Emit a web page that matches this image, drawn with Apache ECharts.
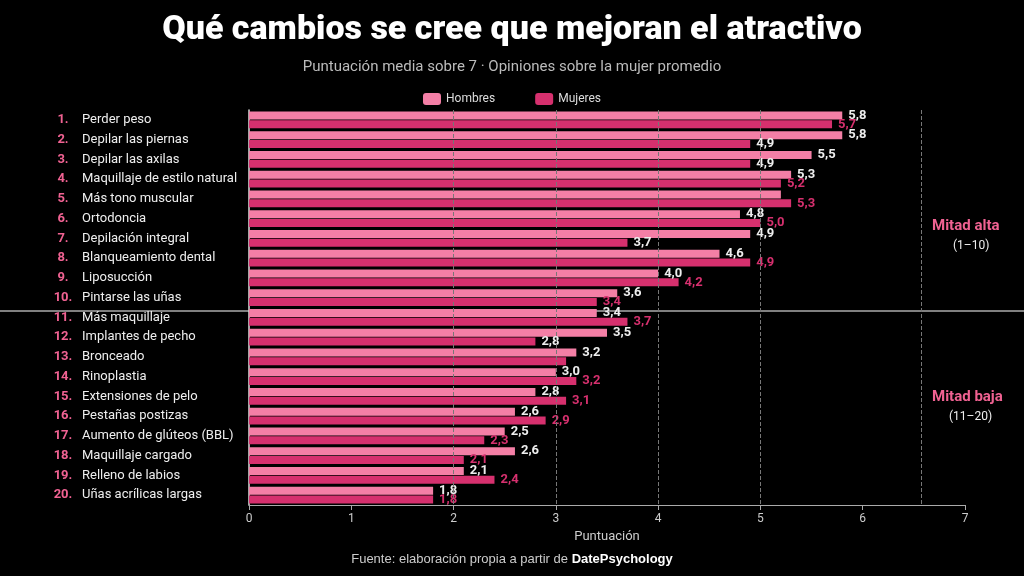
<!DOCTYPE html>
<html><head><meta charset="utf-8">
<script src="https://cdn.jsdelivr.net/npm/echarts@6/dist/echarts.min.js"></script>
<style>html,body{margin:0;background:#000}#c{width:1024px;height:576px}</style>
</head><body><div id="c"></div>
<script>
var categories = ['Perder peso','Depilar las piernas','Depilar las axilas','Maquillaje de estilo natural','Más tono muscular','Ortodoncia','Depilación integral','Blanqueamiento dental','Liposucción','Pintarse las uñas','Más maquillaje','Implantes de pecho','Bronceado','Rinoplastia','Extensiones de pelo','Pestañas postizas','Aumento de glúteos (BBL)','Maquillaje cargado','Relleno de labios','Uñas acrílicas largas'];
var hombres = [5.8,5.8,5.5,5.3,5.2,4.8,4.9,4.6,4.0,3.6,3.4,3.5,3.2,3.0,2.8,2.6,2.5,2.6,2.1,1.8];
var mujeres = [5.7,4.9,4.9,5.2,5.3,5.0,3.7,4.9,4.2,3.4,3.7,2.8,3.1,3.2,3.1,2.9,2.3,2.1,2.4,1.8];
var xTicks = [0,1,2,3,4,5,6,7];
var gridX = [2,3,4,5,6.57];

var PINK_L = '#f47fa6', PINK_D = '#d6306e';
var hideH = [4], hideM = [12];
var whiteM = [1,2,6,11];
function fmt(v){ return String(v.toFixed(1)).replace('.', ','); }

var chart = echarts.init(document.getElementById('c'));
chart.setOption({
  backgroundColor: '#000',
  textStyle: { fontFamily: 'Roboto' },
  title: [
    { text: 'Qué cambios se cree que mejoran el atractivo', left: 'center', top: 8,
      textStyle: { color: '#fff', fontSize: 34, fontWeight: 900, fontFamily: 'Roboto' } },
    { text: 'Puntuación media sobre 7 · Opiniones sobre la mujer promedio', left: 'center', top: 55,
      textStyle: { color: '#bbb', fontSize: 15, fontWeight: 'normal' } }
  ],
  legend: { top: 88, left: 'center', itemWidth: 18, itemHeight: 12, itemGap: 40,
    textStyle: { color: '#ddd', fontSize: 12 }, data: ['Hombres','Mujeres'] },
  grid: { left: 249, right: 59, top: 110, bottom: 71 },
  xAxis: { type: 'value', min: 0, max: 7, interval: 1,
    name: 'Puntuación', nameLocation: 'middle', nameGap: 22,
    nameTextStyle: { color: '#ccc', fontSize: 13 },
    axisLine: { show: true, lineStyle: { color: '#aaa' } },
    axisTick: { show: true, lineStyle: { color: '#aaa' } },
    axisLabel: { color: '#ccc', fontSize: 12, formatter: function(v){ return xTicks.indexOf(v) >= 0 ? v : ''; } },
    splitLine: { show: false } },
  yAxis: { type: 'category', inverse: true, data: categories,
    axisLine: { show: true, lineStyle: { color: '#ddd', width: 1.5 } },
    axisTick: { show: false },
    axisLabel: { align: 'left', margin: 197,
      formatter: function(v, i){ return '{n|' + (i + 1) + '.}{t|' + v + '}'; },
      rich: { n: { color: '#f06292', fontWeight: 'bold', fontSize: 13, width: 22, align: 'right', padding: [0,8,0,0] },
              t: { color: '#eee', fontSize: 13 } } } },
  series: [
    { name: 'Hombres', type: 'bar', barGap: '8%', barCategoryGap: '14%',
      itemStyle: { color: PINK_L },
      data: hombres.map(function(v, i){
        return { value: v, label: { show: hideH.indexOf(i) < 0 } };
      }),
      label: { position: 'right', distance: 6, color: '#eee', fontWeight: 'bold', fontSize: 13,
        textBorderWidth: 0, formatter: function(p){ return fmt(p.value); } },
      markLine: { silent: true, symbol: 'none', label: { show: false },
        lineStyle: { color: '#777', type: 'dashed', width: 1 },
        data: gridX.map(function(x){ return { xAxis: x }; }) } },
    { name: 'Mujeres', type: 'bar',
      itemStyle: { color: PINK_D },
      data: mujeres.map(function(v, i){
        return { value: v, label: { show: hideM.indexOf(i) < 0, color: whiteM.indexOf(i) >= 0 ? '#eee' : PINK_D } };
      }),
      label: { position: 'right', distance: 6, fontWeight: 'bold', fontSize: 13,
        textBorderWidth: 0, formatter: function(p){ return fmt(p.value); } } }
  ],
  graphic: [
    { type: 'line', shape: { x1: 0, y1: 311, x2: 1024, y2: 311 }, style: { stroke: '#fff', lineWidth: 1.2 } },
    { type: 'text', left: 932, top: 219, style: { text: 'Mitad alta', fill: '#f06292', font: 'bold 15px Roboto' } },
    { type: 'text', left: 953, top: 240, style: { text: '(1–10)', fill: '#eee', font: '12px Roboto' } },
    { type: 'text', left: 932, top: 390, style: { text: 'Mitad baja', fill: '#f06292', font: 'bold 15px Roboto' } },
    { type: 'text', left: 949, top: 411, style: { text: '(11–20)', fill: '#eee', font: '12px Roboto' } },
    { type: 'text', left: 'center', top: 553, style: { rich: { a: { fill: '#ccc', fontSize: 13 }, b: { fill: '#fff', fontSize: 13, fontWeight: 'bold' } },
      text: '{a|Fuente: elaboración propia a partir de }{b|DatePsychology}' } }
  ]
});
</script></body></html>
